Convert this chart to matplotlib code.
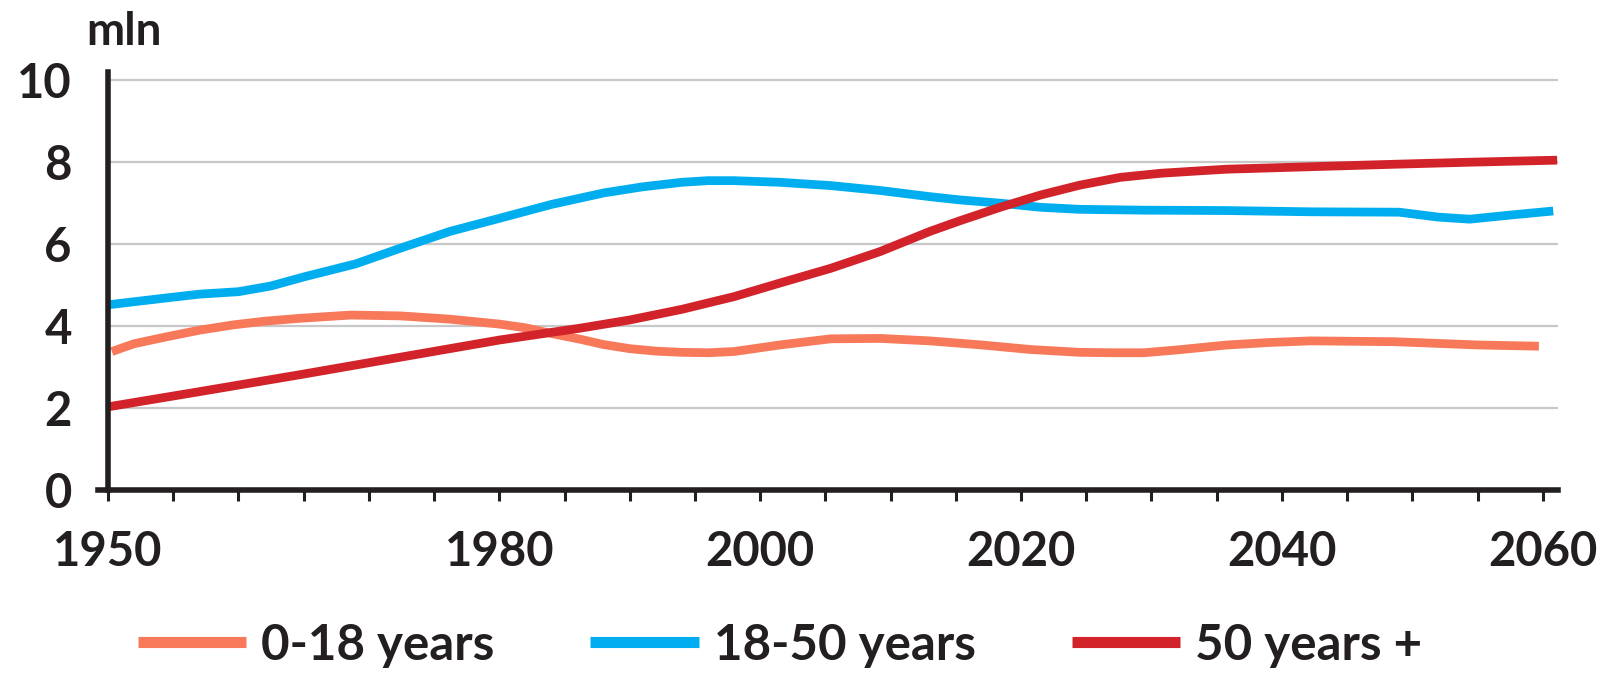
import matplotlib
matplotlib.use('Agg')
import matplotlib.pyplot as plt
from matplotlib.lines import Line2D

plt.rcParams['font.family'] = ['Lato', 'DejaVu Sans']

# 0-18 years
years_young = [1950.3, 1952.0, 1954.5, 1957.0, 1959.6, 1962.0, 1964.7, 1968.6,
               1972.4, 1976.2, 1980.0, 1982.0, 1984.0, 1986.2, 1988.0, 1990.0,
               1992.0, 1994.0, 1996.0, 1998.0, 2001.5, 2005.4, 2009.2, 2013.0,
               2017.0, 2020.7, 2024.5, 2027.0, 2029.4, 2032.0, 2035.8, 2039.0,
               2042.2, 2048.6, 2055.0, 2059.7]
vals_young = [3.38, 3.57, 3.74, 3.90, 4.03, 4.12, 4.19, 4.27,
              4.25, 4.17, 4.05, 3.96, 3.82, 3.68, 3.55, 3.45,
              3.39, 3.36, 3.35, 3.38, 3.54, 3.69, 3.70, 3.64,
              3.54, 3.43, 3.36, 3.35, 3.35, 3.42, 3.54, 3.60,
              3.64, 3.62, 3.54, 3.51]

# 18-50 years
years_mid = [1950.0, 1954.0, 1957.0, 1960.0, 1962.5, 1965.0, 1969.0, 1972.4,
             1976.2, 1980.0, 1984.0, 1988.0, 1991.0, 1994.0, 1996.0, 1998.0,
             2001.5, 2005.4, 2009.2, 2013.0, 2015.3, 2018.4, 2021.5, 2024.5,
             2029.4, 2035.8, 2042.2, 2049.0, 2052.0, 2054.4, 2057.5, 2060.8]
vals_mid = [4.52, 4.67, 4.78, 4.84, 4.98, 5.20, 5.52, 5.90,
            6.31, 6.63, 6.97, 7.25, 7.40, 7.51, 7.55, 7.55,
            7.51, 7.43, 7.31, 7.16, 7.08, 7.00, 6.90, 6.85,
            6.83, 6.82, 6.79, 6.78, 6.66, 6.61, 6.71, 6.81]

# 50 years +
years_old = [1950.0, 1957.0, 1965.0, 1972.4, 1980.0, 1986.2, 1990.0, 1994.0,
             1998.0, 2001.5, 2005.4, 2009.2, 2013.0, 2015.3, 2018.4, 2021.5,
             2024.5, 2027.6, 2030.7, 2033.7, 2035.8, 2042.2, 2048.6, 2054.4,
             2061.1]
vals_old = [2.03, 2.40, 2.83, 3.24, 3.66, 3.95, 4.15, 4.41,
            4.72, 5.05, 5.41, 5.82, 6.31, 6.57, 6.90, 7.20,
            7.44, 7.63, 7.73, 7.79, 7.83, 7.89, 7.95, 8.00,
            8.05]

series_labels = ['0-18 years', '18-50 years', '50 years +']
series_colors = ['#F7795A', '#00AEEF', '#D2232A']

x_ticks = list(range(1950, 2061, 5))
x_labelled = [1950, 1980, 2000, 2020, 2040, 2060]
y_ticks = [0, 2, 4, 6, 8, 10]

INK = '#231F20'
FS = 33

fig = plt.figure(figsize=(16.04, 6.76), dpi=100, facecolor='white')
ax = fig.add_axes([0.0608, 0.2751, 0.9104, 0.6183])

# grid lines only from the y axis to the right
ax.hlines(y_ticks[1:], 1950, 2061.15, colors='#C8C8C8', linewidth=1.6, zorder=1)

for yrs, vals, col in zip([years_young, years_mid, years_old],
                          [vals_young, vals_mid, vals_old], series_colors):
    ax.plot(yrs, vals, color=col, linewidth=6.3, solid_capstyle='butt',
            solid_joinstyle='round', zorder=3)

ax.set_xlim(1949.2, 2061.15)
ax.set_ylim(0, 10.2)

for s in ['top', 'right']:
    ax.spines[s].set_visible(False)
ax.spines['left'].set_position(('data', 1950))
for s in ['left', 'bottom']:
    ax.spines[s].set_linewidth(4)
    ax.spines[s].set_color(INK)
    ax.spines[s].set_zorder(4)

ax.set_xticks(x_ticks)
ax.set_xticklabels([str(t) if t in x_labelled else '' for t in x_ticks])
ax.tick_params(axis='x', direction='out', length=8, width=2.2, color=INK,
               pad=21, labelsize=FS + 1, labelcolor=INK)
ax.set_yticks(y_ticks)
ax.set_yticklabels([str(t) for t in y_ticks])
ax.tick_params(axis='y', length=0, pad=26, labelsize=FS + 1, labelcolor=INK)
for lbl in ax.get_xticklabels() + ax.get_yticklabels():
    lbl.set_fontweight('bold')

fig.text(86 / 1604, 1 - 45 / 676, 'mln', fontsize=FS, fontweight='bold',
         color=INK, ha='left', va='baseline')

handles = [Line2D([0], [0], color=c, linewidth=8, solid_capstyle='butt')
           for c in series_colors]
leg = fig.legend(handles, series_labels, loc='center', ncol=3,
                 bbox_to_anchor=(780 / 1604, 1 - 645 / 676), frameon=False,
                 fontsize=35.5, handlelength=2.2, handletextpad=0.3,
                 columnspacing=1.95, borderpad=0, borderaxespad=0)
for t in leg.get_texts():
    t.set_color(INK)
    t.set_fontweight('bold')

fig.savefig('out.png', dpi=100, facecolor='white')
